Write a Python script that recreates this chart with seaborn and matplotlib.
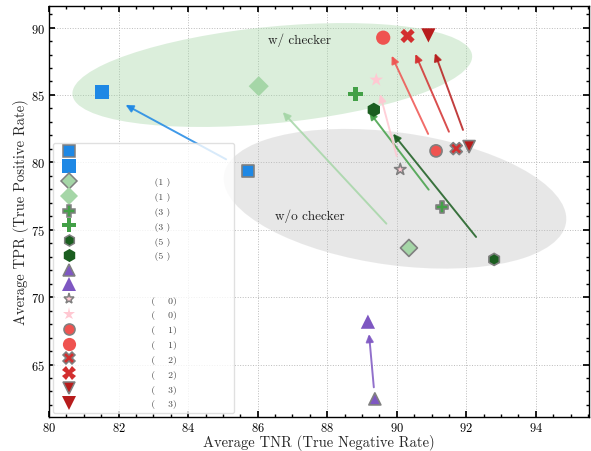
import matplotlib
matplotlib.use("Agg")
import numpy as np
import pandas as pd
import matplotlib.pyplot as plt
import seaborn as sns
from matplotlib.patches import Ellipse
from matplotlib.lines import Line2D
from matplotlib.ticker import MultipleLocator

# values
models = ["m_sq", "m_dia", "m_plus", "m_hex", "m_tri", "m_star", "m_circ", "m_x", "m_tridown"]
tnr_wo = [85.72, 90.35, 91.29, 92.80, 89.37, 90.10, 91.13, 91.71, 92.08]
tpr_wo = [79.35, 73.65, 76.72, 72.80, 62.45, 79.47, 80.85, 81.02, 81.17]
tnr_w = [81.53, 86.03, 88.81, 89.34, 89.17, 89.41, 89.61, 90.31, 90.91]
tpr_w = [85.20, 85.65, 85.08, 83.90, 68.18, 86.12, 89.25, 89.38, 89.42]
legend_tags = ["", "(1 )", "(3 )", "(5 )", "", "(    0)", "(    1)", "(    2)", "(    3)"]

colors = ["#1E88E5", "#A5D6A7", "#43A047", "#1B5E20", "#7E57C2",
          "#FFC8D2", "#EF5350", "#D32F2F", "#B71C1C"]
markers = ["s", "D", "P", "h", "^", "*", "o", "X", "v"]

palette = dict(zip(models, colors))
marker_map = dict(zip(models, markers))

df = pd.concat([
    pd.DataFrame({"tnr": tnr_wo, "tpr": tpr_wo, "model": models, "setting": "w/o"}),
    pd.DataFrame({"tnr": tnr_w, "tpr": tpr_w, "model": models, "setting": "w/"}),
], ignore_index=True)

sns.set_theme(style="ticks")
plt.rcParams.update({
    "font.family": "cmr10",
    "mathtext.fontset": "cm",
    "axes.formatter.use_mathtext": True,
    "axes.edgecolor": "black",
    "axes.linewidth": 1.0,
    "xtick.direction": "in",
    "ytick.direction": "in",
    "xtick.top": True,
    "ytick.right": True,
    "xtick.major.size": 4,
    "ytick.major.size": 4,
    "xtick.minor.size": 2,
    "ytick.minor.size": 2,
    "xtick.major.pad": 3,
    "ytick.major.pad": 3,
    "xtick.color": "black",
    "ytick.color": "black",
})

fig = plt.figure(figsize=(5.91, 4.52), dpi=100)
ax = fig.add_axes([0.083, 0.075, 0.9137, 0.9095])

# shaded regions
ax.add_patch(Ellipse((86.42, 86.48), 12.0, 6.9, angle=20.5,
                     facecolor="#A5D6A7", alpha=0.4, edgecolor="none", zorder=1))
ax.add_patch(Ellipse((89.95, 77.3), 11.5, 8.5, angle=-50,
                     facecolor="#BDBDBD", alpha=0.35, edgecolor="none", zorder=1))

# arrows from w/o to w/
for i in range(len(models)):
    x0, y0, x1, y1 = tnr_wo[i], tpr_wo[i], tnr_w[i], tpr_w[i]
    sx, sy = x0 + 0.15 * (x1 - x0), y0 + 0.15 * (y1 - y0)
    ex, ey = x0 + 0.84 * (x1 - x0), y0 + 0.84 * (y1 - y0)
    ax.annotate("", xy=(ex, ey), xytext=(sx, sy),
                arrowprops=dict(arrowstyle="-|>", color=colors[i], lw=1.4, alpha=0.85,
                                mutation_scale=11, shrinkA=0, shrinkB=0),
                zorder=2)

sns.scatterplot(data=df[df.setting == "w/o"], x="tnr", y="tpr", hue="model", style="model",
                palette=palette, markers=marker_map, s=75, edgecolor="gray", linewidth=1.2,
                legend=False, ax=ax, zorder=4)
sns.scatterplot(data=df[df.setting == "w/"], x="tnr", y="tpr", hue="model", style="model",
                palette=palette, markers=marker_map, s=105, linewidth=0,
                legend=False, ax=ax, zorder=4)

ax.text(87.2, 89.1, "w/ checker", fontsize=9.5, ha="center", va="center", color="#222222")
ax.text(87.5, 76.1, "w/o checker", fontsize=9.5, ha="center", va="center", color="#222222")

# legend: w/o then w/ for each model
handles, labels = [], []
for i in range(len(models)):
    tag = legend_tags[i]
    if tag.startswith("(1") or tag.startswith("(3") or tag.startswith("(5"):
        text = " " * 22 + tag + " " * 6
    elif tag:
        text = " " * 21 + tag + " " * 6
    else:
        text = " " * 45
    for setting in ["w/o", "w/"]:
        if setting == "w/o":
            h = Line2D([], [], linestyle="", marker=markers[i], color=colors[i],
                       markersize=8, markeredgecolor="gray", markeredgewidth=1.1)
        else:
            h = Line2D([], [], linestyle="", marker=markers[i], color=colors[i],
                       markersize=9.5, markeredgewidth=0)
        handles.append(h)
        labels.append(text)
leg = ax.legend(handles, labels, loc="lower left", fontsize=7, labelspacing=0.6,
                handlelength=2.4, handletextpad=0.2, borderpad=0.5, borderaxespad=0.4,
                frameon=True, framealpha=0.8, edgecolor="#d9d9d9", fancybox=True)
for t in leg.get_texts():
    t.set_color("#444444")
leg.set_zorder(5)

ax.set_xlim(80, 95.53)
ax.set_ylim(61.1, 91.6)
ax.xaxis.set_major_locator(MultipleLocator(2))
ax.xaxis.set_minor_locator(MultipleLocator(0.5))
ax.yaxis.set_major_locator(MultipleLocator(5))
ax.yaxis.set_minor_locator(MultipleLocator(1))
ax.grid(True, which="major", linestyle=":", color="#bbbbbb", linewidth=0.7)
ax.set_axisbelow(True)
ax.tick_params(labelsize=9)
ax.set_xlabel("Average TNR (True Negative Rate)", fontsize=10.5, labelpad=0)
ax.set_ylabel("Average TPR (True Positive Rate)", fontsize=10.5, labelpad=1)

fig.savefig("out.png", dpi=100)
